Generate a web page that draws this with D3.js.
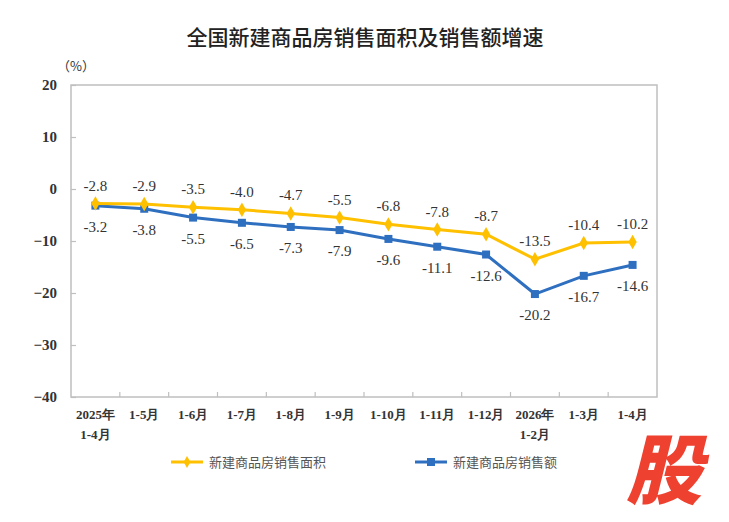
<!DOCTYPE html>
<html>
<head>
<meta charset="utf-8">
<script src="https://cdn.jsdelivr.net/npm/d3@7"></script>
<style>
  body { margin: 0; background: #fff; }
</style>
</head>
<body>
<script>
// categories, first line and second line of each x label
const months = ["2025年", "1-5月", "1-6月", "1-7月", "1-8月", "1-9月", "1-10月", "1-11月", "1-12月", "2026年", "1-3月", "1-4月"];
const months2 = ["1-4月", "", "", "", "", "", "", "", "", "1-2月", "", ""];

// growth rates (%)
const areaGrowth = [-2.8, -2.9, -3.5, -4.0, -4.7, -5.5, -6.8, -7.8, -8.7, -13.5, -10.4, -10.2];
const salesGrowth = [-3.2, -3.8, -5.5, -6.5, -7.3, -7.9, -9.6, -11.1, -12.6, -20.2, -16.7, -14.6];

const yTicks = [20, 10, 0, -10, -20, -30, -40];

const serif = "'Liberation Serif', 'Times New Roman', serif";
const cjk = "'Noto Sans CJK SC', sans-serif";
const yellow = "#FFC000";
const blue = "#2E6FC0";

const W = 729, H = 522;
const box = { left: 71, right: 657, top: 85, bottom: 397 };

const svg = d3.select("body")
  .append("svg")
  .attr("width", W)
  .attr("height", H);

// title
svg.append("text")
  .attr("x", 365).attr("y", 45)
  .attr("text-anchor", "middle")
  .style("font-family", cjk)
  .style("font-size", "21px")
  .style("font-weight", "500")
  .style("fill", "#222")
  .text("全国新建商品房销售面积及销售额增速");

const x = d3.scaleBand()
  .domain(d3.range(months.length))
  .range([box.left, box.right]);

const y = d3.scaleLinear()
  .domain([-40, 20])
  .range([box.bottom, box.top]);

// plot frame
svg.append("rect")
  .attr("x", box.left).attr("y", box.top)
  .attr("width", box.right - box.left)
  .attr("height", box.bottom - box.top)
  .style("fill", "none")
  .style("stroke", "#BFBFBF")
  .style("stroke-width", 1.5);

// y axis (ticks point inward)
const yAxis = svg.append("g")
  .attr("transform", "translate(" + box.left + ",0)")
  .call(d3.axisLeft(y).tickValues(yTicks).tickSize(-5).tickPadding(14));
yAxis.select(".domain").remove();
yAxis.selectAll("line").style("stroke", "#BFBFBF").style("stroke-width", 1.2);
yAxis.selectAll("text")
  .style("font-family", serif)
  .style("font-size", "15px")
  .style("font-weight", "bold")
  .style("fill", "#333");

svg.append("text")
  .attr("x", 76).attr("y", 71)
  .attr("text-anchor", "middle")
  .style("font-family", cjk)
  .style("font-size", "13px")
  .style("fill", "#333")
  .text("（%）");

// x axis tick marks at band boundaries
const bounds = d3.range(1, months.length).map(i => x(i));
svg.append("g").selectAll("line")
  .data(bounds)
  .join("line")
  .attr("x1", d => d).attr("x2", d => d)
  .attr("y1", box.bottom).attr("y2", box.bottom - 5)
  .style("stroke", "#BFBFBF")
  .style("stroke-width", 1.2);

const xl = svg.append("g");
xl.selectAll("text.l1")
  .data(months)
  .join("text")
  .attr("class", "l1")
  .attr("x", (d, i) => x(i) + x.bandwidth() / 2)
  .attr("y", 419)
  .attr("text-anchor", "middle")
  .style("font-family", serif)
  .style("font-size", "13px")
  .style("font-weight", "bold")
  .style("fill", "#333")
  .text(d => d);
xl.selectAll("text.l2")
  .data(months2)
  .join("text")
  .attr("class", "l2")
  .attr("x", (d, i) => x(i) + x.bandwidth() / 2)
  .attr("y", 439)
  .attr("text-anchor", "middle")
  .style("font-family", serif)
  .style("font-size", "13px")
  .style("font-weight", "bold")
  .style("fill", "#333")
  .text(d => d);

const cx = i => x(i) + x.bandwidth() / 2;
const line = d3.line().x((d, i) => cx(i)).y(d => y(d));

// sales line (blue, squares)
svg.append("path")
  .datum(salesGrowth)
  .attr("d", line)
  .style("fill", "none")
  .style("stroke", blue)
  .style("stroke-width", 3);
svg.append("g").selectAll("rect")
  .data(salesGrowth)
  .join("rect")
  .attr("x", (d, i) => cx(i) - 4)
  .attr("y", d => y(d) - 4)
  .attr("width", 8).attr("height", 8)
  .style("fill", blue);

// area line (yellow, diamonds)
svg.append("path")
  .datum(areaGrowth)
  .attr("d", line)
  .style("fill", "none")
  .style("stroke", yellow)
  .style("stroke-width", 3);
svg.append("g").selectAll("path")
  .data(areaGrowth)
  .join("path")
  .attr("transform", (d, i) => "translate(" + cx(i) + "," + y(d) + ")")
  .attr("d", d3.symbol(d3.symbolDiamond, 60))
  .style("fill", yellow);

// data labels
svg.append("g").selectAll("text")
  .data(areaGrowth)
  .join("text")
  .attr("x", (d, i) => cx(i))
  .attr("y", d => y(d) - 13)
  .attr("text-anchor", "middle")
  .style("font-family", serif)
  .style("font-size", "15px")
  .style("fill", "#333")
  .text(d => d.toFixed(1));

svg.append("g").selectAll("text")
  .data(salesGrowth)
  .join("text")
  .attr("x", (d, i) => cx(i))
  .attr("y", d => y(d) + 26)
  .attr("text-anchor", "middle")
  .style("font-family", serif)
  .style("font-size", "15px")
  .style("fill", "#333")
  .text(d => d.toFixed(1));

// legend
const legend = [
  { name: "新建商品房销售面积", color: yellow, x: 171, mark: "diamond" },
  { name: "新建商品房销售额", color: blue, x: 415, mark: "square" }
];
legend.forEach(l => {
  const g = svg.append("g").attr("transform", "translate(" + l.x + ",462)");
  g.append("line").attr("x1", 0).attr("x2", 32)
    .style("stroke", l.color).style("stroke-width", 3);
  if (l.mark === "diamond") {
    g.append("path").attr("transform", "translate(16,0)")
      .attr("d", d3.symbol(d3.symbolDiamond, 40)).style("fill", l.color);
  } else {
    g.append("rect").attr("x", 12).attr("y", -4).attr("width", 8).attr("height", 8)
      .style("fill", l.color);
  }
  g.append("text").attr("x", 38).attr("y", 5)
    .style("font-family", cjk)
    .style("font-size", "13px")
    .style("fill", "#555")
    .text(l.name);
});

// watermark
svg.append("text")
  .attr("x", 664).attr("y", 498)
  .attr("text-anchor", "middle")
  .style("font-family", cjk)
  .style("font-size", "76px")
  .style("font-weight", "900")
  .style("font-style", "italic")
  .style("fill", "#EE4130")
  .text("股");
</script>
</body>
</html>
